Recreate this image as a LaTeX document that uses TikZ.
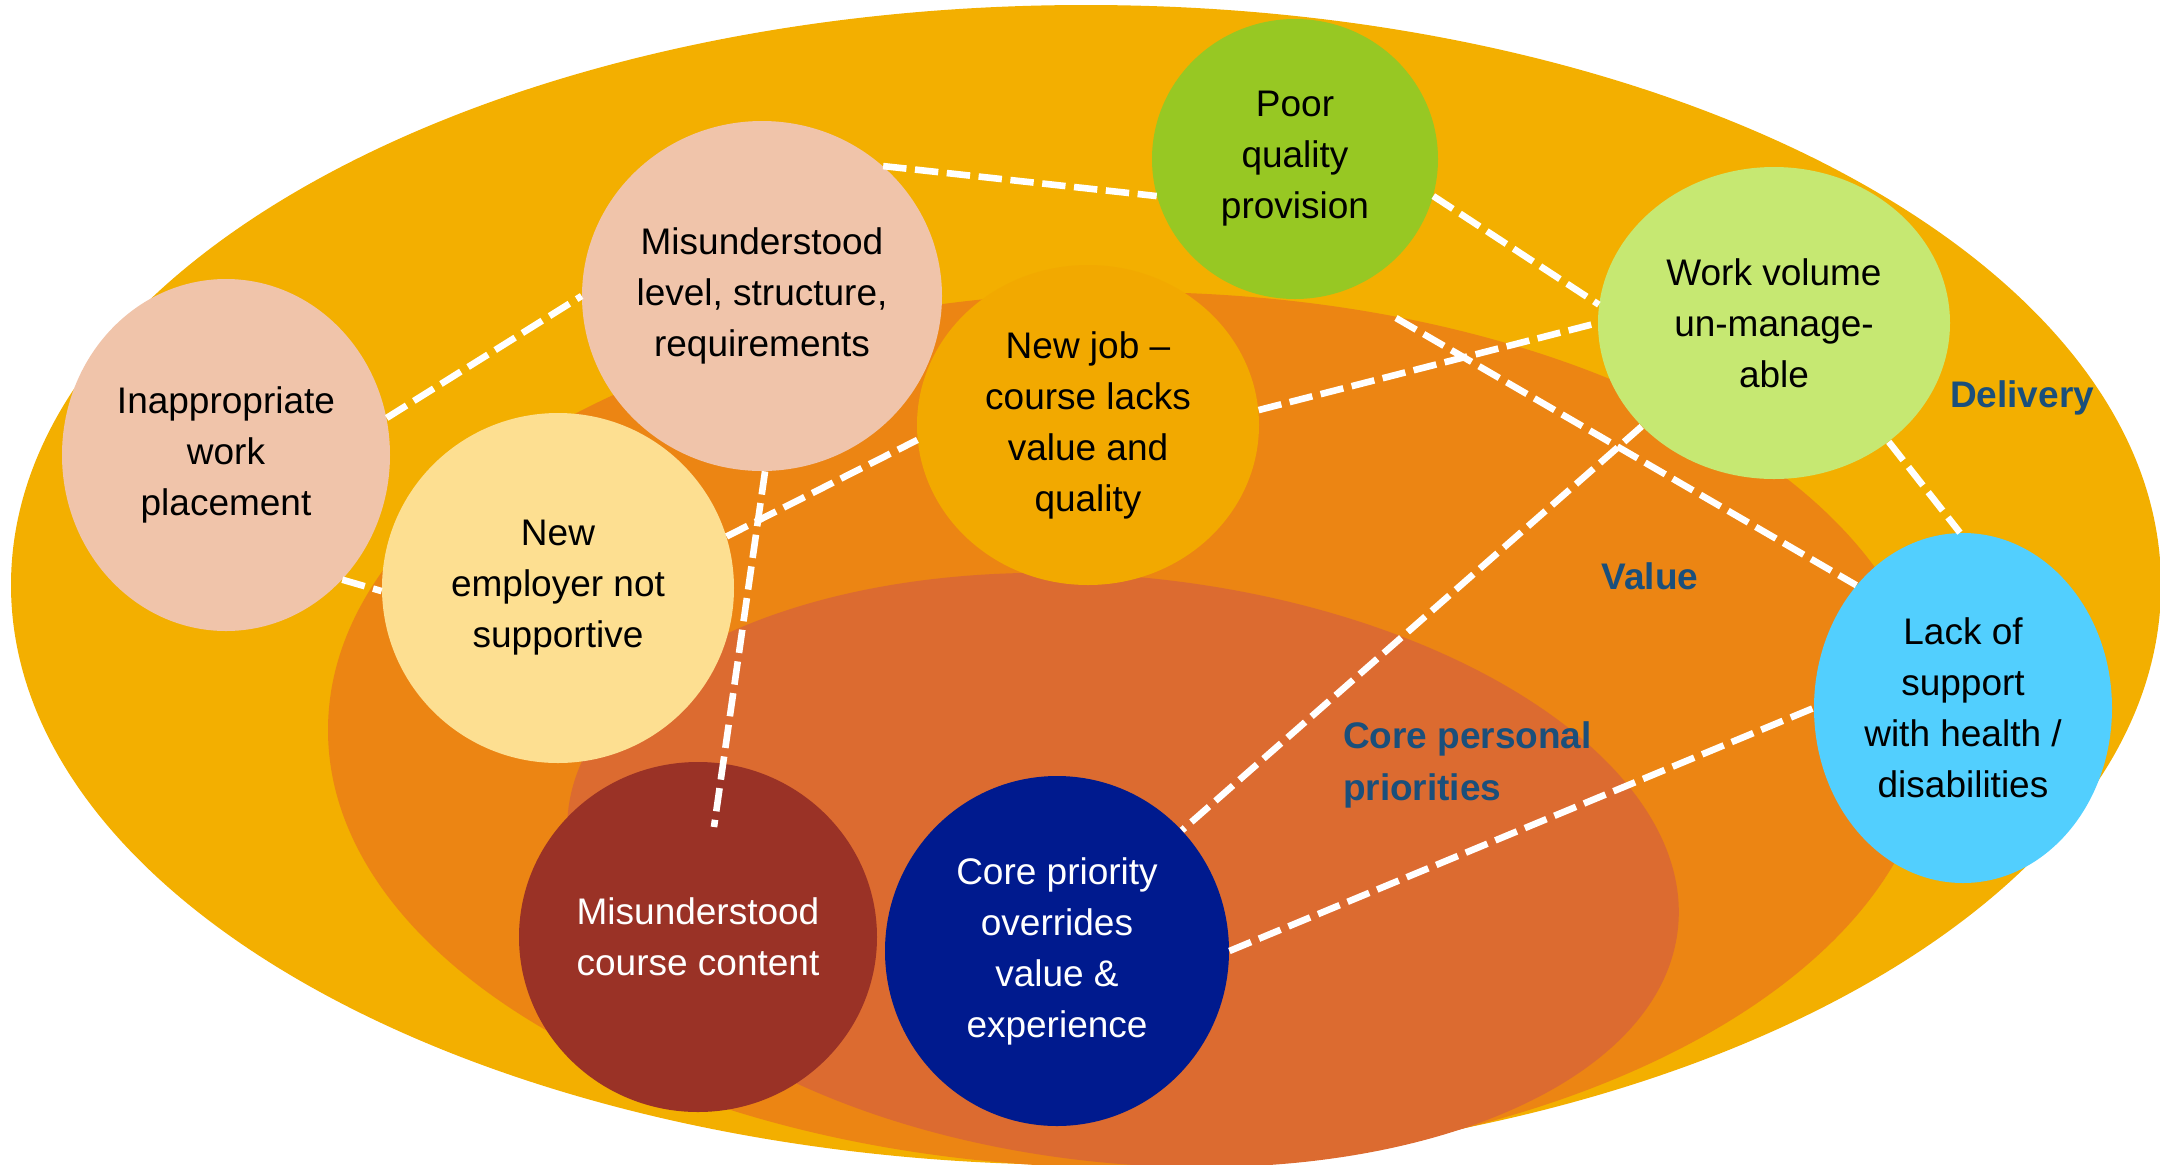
\documentclass[tikz,border=0pt]{standalone}
\usepackage{fontspec}
\setmainfont{Liberation Sans}
\usetikzlibrary{shapes.geometric}
\definecolor{outerc}{HTML}{F3AF00}
\definecolor{valuec}{HTML}{EC8513}
\definecolor{corec}{HTML}{DC6B30}
\definecolor{njc}{HTML}{F2A900}
\definecolor{poorc}{HTML}{97C823}
\definecolor{pinkc}{HTML}{F0C4AA}
\definecolor{nec}{HTML}{FDDF91}
\definecolor{wvc}{HTML}{C6E872}
\definecolor{lsc}{HTML}{52CFFE}
\definecolor{mcc}{HTML}{9A3226}
\definecolor{cpc}{HTML}{001A8E}
\definecolor{labelblue}{HTML}{1A4F7B}
\begin{document}
\begin{tikzpicture}[x=0.5pt,y=-0.5pt,
  bubble/.style={ellipse, inner sep=0pt, align=center, text=black,
    font=\fontsize{18.5}{25.5}\selectfont},
  link/.style={draw=white, line width=3.3pt, dash pattern=on 11.7pt off 4.3pt},
  zone/.style={font=\bfseries\fontsize{18.5}{26}\selectfont, text=labelblue, align=left}]
\useasboundingbox (0,0) rectangle (2160,1164);
\begin{scope}
\clip (0,0) rectangle (2160,1164);
\fill[outerc] (1086,585) ellipse [x radius=1075, y radius=580];
\fill[valuec] (1130,730) ellipse [x radius=802, y radius=438];
\fill[corec, rotate around={-6:(1123,870)}] (1123,870) ellipse [x radius=558, y radius=293];

\node[bubble, fill=poorc, minimum width=143pt, minimum height=140pt] (poor) at (1295,159) {Poor\\quality\\provision};
\node[bubble, fill=njc, minimum width=171pt, minimum height=160pt] (nj) at (1088,425) {New job --\\course lacks\\value and\\quality};
\node[bubble, fill=pinkc, minimum width=164pt, minimum height=176pt] (inap) at (226,455) {Inappropriate\\work\\placement};
\node[bubble, fill=pinkc, minimum width=180pt, minimum height=175pt] (ml) at (762,296) {Misunderstood\\level, structure,\\requirements};
\node[bubble, fill=nec, minimum width=176pt, minimum height=175pt] (ne) at (558,588) {New\\employer not\\supportive};
\node[bubble, fill=wvc, minimum width=176pt, minimum height=156pt] (wv) at (1774,323) {Work volume\\un-manage-\\able};
\node[bubble, fill=lsc, minimum width=149pt, minimum height=175pt] (ls) at (1963,708) {Lack of\\support\\with health /\\disabilities};
\node[bubble, fill=mcc, text=white, minimum width=179pt, minimum height=175pt] (mc) at (698,937) {Misunderstood\\course content};
\node[bubble, fill=cpc, text=white, minimum width=172pt, minimum height=175pt] (cp) at (1057,951) {Core priority\\overrides\\value \&\\experience};
\end{scope}

\coordinate (mcend) at (714,827);
\coordinate (p8) at (1396,318);

\draw[link] (ml.47) -- (poor.195);
\draw[link] (poor.345) -- (wv.174);
\draw[link] (inap.13) -- (ml.180);
\draw[link] (inap.313) -- (ne.181);
\draw[link] (ne.17) -- (nj.185);
\draw[link] (ml.271) -- (mcend);
\draw[link] (nj.5) -- (wv.180);
\draw[link] (p8) -- (ls.131);
\draw[link] (wv.218) -- (cp.44);
\draw[link] (wv.314) -- (ls.91);
\draw[link] (cp.0) -- (ls.180);

\node[zone] (delivery) at (2022,398) {Delivery};
\node[zone] (value) at (1650,576) {Value};
\node[zone, anchor=west] (core) at (1336,765) {Core personal\\priorities};
\end{tikzpicture}
\end{document}
